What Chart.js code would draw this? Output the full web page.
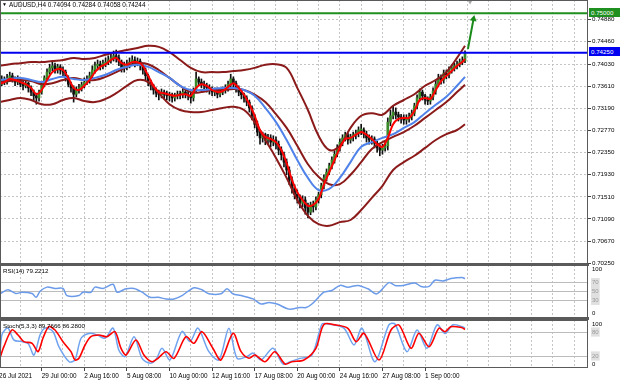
<!DOCTYPE html>
<html>
<head>
<meta charset="utf-8">
<script src="https://cdn.jsdelivr.net/npm/chart.js@4.4.1/dist/chart.umd.min.js"></script>
<style>
html,body{margin:0;padding:0;background:#fff;}
#wrap{position:relative;width:620px;height:383px;overflow:hidden;background:#fff;font-family:'Liberation Sans',Arial,sans-serif;}
canvas{position:absolute;left:0;}
.t{position:absolute;white-space:nowrap;font-size:6.4px;line-height:1;color:#000;}
.box{position:absolute;left:589px;width:31px;height:9px;font-size:6.2px;line-height:9px;padding-left:2px;box-sizing:border-box;color:#fff;}
.sep{position:absolute;left:0;width:589px;background:#5a5a5a;}
</style>
</head>
<body>
<div id="wrap">
<canvas id="cMain" width="620" height="268" style="top:0"></canvas>
<canvas id="cRsi" width="620" height="53" style="top:265px"></canvas>
<canvas id="cSto" width="620" height="63" style="top:320px"></canvas>
<div class="sep" style="top:264px;height:2px"></div>
<div class="sep" style="top:317px;height:3px"></div>
<div class="t" style="left:2px;top:2px;font-size:5px">&#9660;</div>
<div class="t" id="hdr" style="left:9px;top:2px"></div>
<div class="t" id="rsiLbl" style="left:3px;top:268px;font-size:6.2px"></div>
<div class="t" id="stoLbl" style="left:3px;top:323px;font-size:6.2px"></div>
<div class="box" id="boxG" style="top:8px;background:#1f8f1f"></div>
<div class="box" id="boxB" style="top:47px;background:#0000f0"></div>
</div>
<script>
// ---------------- data ----------------
const symbol = 'AUDUSD,H4';
const opens = [
0.7362,0.7365,0.7373,0.7369,0.7377,0.7381,0.7375,0.7369,0.7373,0.7365,
0.7362,0.7367,0.7358,0.7350,0.7343,0.7339,0.7350,0.7364,0.7377,0.7388,
0.7396,0.7400,0.7392,0.7398,0.7392,0.7388,0.7377,0.7365,0.7358,0.7346,
0.7354,0.7358,0.7364,0.7369,0.7373,0.7381,0.7392,0.7400,0.7403,0.7400,
0.7405,0.7407,0.7411,0.7415,0.7419,0.7415,0.7407,0.7396,0.7400,0.7403,
0.7407,0.7411,0.7405,0.7409,0.7400,0.7392,0.7381,0.7369,0.7362,0.7354,
0.7348,0.7345,0.7350,0.7346,0.7343,0.7345,0.7339,0.7343,0.7346,0.7345,
0.7350,0.7346,0.7343,0.7339,0.7354,0.7375,0.7369,0.7365,0.7362,0.7358,
0.7354,0.7350,0.7352,0.7346,0.7350,0.7354,0.7358,0.7365,0.7375,0.7367,
0.7358,0.7350,0.7345,0.7339,0.7331,0.7320,0.7305,0.7289,0.7274,0.7263,
0.7269,0.7259,0.7263,0.7255,0.7259,0.7251,0.7240,0.7231,0.7217,0.7202,
0.7183,0.7168,0.7156,0.7149,0.7139,0.7145,0.7130,0.7122,0.7136,0.7132,
0.7145,0.7155,0.7172,0.7187,0.7198,0.7210,0.7221,0.7232,0.7244,0.7255,
0.7263,0.7269,0.7259,0.7265,0.7269,0.7272,0.7278,0.7278,0.7270,0.7263,
0.7259,0.7261,0.7253,0.7244,0.7240,0.7244,0.7248,0.7293,0.7305,0.7312,
0.7307,0.7303,0.7301,0.7297,0.7299,0.7303,0.7310,0.7324,0.7339,0.7350,
0.7343,0.7335,0.7333,0.7341,0.7352,0.7365,0.7377,0.7373,0.7386,0.7383,
0.7392,0.7396,0.7400,0.7403,0.7407,0.74094];
const highs = [
0.7373,0.7381,0.7379,0.7384,0.7388,0.7386,0.7379,0.7381,0.7377,0.7371,
0.7373,0.7369,0.7362,0.7354,0.7348,0.7354,0.7367,0.7381,0.7394,0.7403,
0.7407,0.7405,0.7403,0.7402,0.7398,0.7392,0.7381,0.7369,0.7362,0.7360,
0.7365,0.7369,0.7377,0.7381,0.7388,0.7400,0.7407,0.7411,0.7409,0.7411,
0.7415,0.7419,0.7422,0.7428,0.7430,0.7421,0.7411,0.7407,0.7411,0.7415,
0.7419,0.7417,0.7415,0.7413,0.7403,0.7396,0.7384,0.7373,0.7365,0.7358,
0.7354,0.7356,0.7354,0.7352,0.7350,0.7348,0.7348,0.7352,0.7352,0.7356,
0.7354,0.7352,0.7348,0.7358,0.7388,0.7379,0.7375,0.7371,0.7367,0.7364,
0.7360,0.7358,0.7358,0.7356,0.7360,0.7364,0.7371,0.7384,0.7379,0.7371,
0.7362,0.7356,0.7348,0.7343,0.7335,0.7324,0.7308,0.7295,0.7278,0.7274,
0.7272,0.7270,0.7269,0.7267,0.7265,0.7257,0.7246,0.7236,0.7223,0.7208,
0.7189,0.7174,0.7164,0.7155,0.7153,0.7151,0.7139,0.7141,0.7143,0.7151,
0.7160,0.7177,0.7193,0.7204,0.7215,0.7227,0.7238,0.7250,0.7261,0.7269,
0.7274,0.7272,0.7270,0.7274,0.7278,0.7284,0.7289,0.7282,0.7276,0.7269,
0.7267,0.7265,0.7257,0.7250,0.7251,0.7255,0.7301,0.7316,0.7324,0.7320,
0.7312,0.7308,0.7307,0.7307,0.7310,0.7316,0.7329,0.7345,0.7356,0.7354,
0.7346,0.7341,0.7346,0.7358,0.7373,0.7384,0.7383,0.7392,0.7392,0.7398,
0.7402,0.7405,0.7409,0.7413,0.7417,0.74284];
const lows = [
0.7354,0.7362,0.7364,0.7365,0.7373,0.7369,0.7362,0.7364,0.7360,0.7354,
0.7358,0.7350,0.7343,0.7335,0.7327,0.7333,0.7346,0.7360,0.7373,0.7384,
0.7390,0.7386,0.7386,0.7384,0.7381,0.7371,0.7360,0.7350,0.7331,0.7341,
0.7348,0.7352,0.7358,0.7364,0.7367,0.7375,0.7386,0.7392,0.7392,0.7394,
0.7398,0.7402,0.7405,0.7409,0.7407,0.7400,0.7388,0.7388,0.7392,0.7396,
0.7402,0.7398,0.7400,0.7392,0.7384,0.7373,0.7362,0.7354,0.7346,0.7341,
0.7335,0.7339,0.7337,0.7335,0.7333,0.7331,0.7333,0.7337,0.7337,0.7339,
0.7339,0.7335,0.7329,0.7333,0.7350,0.7362,0.7358,0.7354,0.7350,0.7346,
0.7343,0.7343,0.7339,0.7341,0.7345,0.7348,0.7352,0.7360,0.7360,0.7350,
0.7343,0.7337,0.7331,0.7324,0.7312,0.7297,0.7282,0.7267,0.7251,0.7255,
0.7250,0.7251,0.7246,0.7248,0.7242,0.7231,0.7221,0.7208,0.7193,0.7174,
0.7158,0.7147,0.7139,0.7130,0.7132,0.7118,0.7111,0.7117,0.7122,0.7126,
0.7139,0.7149,0.7166,0.7181,0.7193,0.7204,0.7215,0.7227,0.7238,0.7248,
0.7257,0.7251,0.7253,0.7257,0.7261,0.7265,0.7269,0.7263,0.7255,0.7251,
0.7251,0.7244,0.7236,0.7229,0.7232,0.7238,0.7240,0.7286,0.7299,0.7299,
0.7295,0.7291,0.7289,0.7289,0.7293,0.7297,0.7305,0.7318,0.7333,0.7335,
0.7327,0.7326,0.7327,0.7335,0.7346,0.7360,0.7365,0.7367,0.7375,0.7377,
0.7386,0.7390,0.7394,0.7398,0.7402,0.74058];
const closes = [
0.7365,0.7373,0.7369,0.7377,0.7381,0.7375,0.7369,0.7373,0.7365,0.7362,
0.7367,0.7358,0.7350,0.7343,0.7339,0.7350,0.7364,0.7377,0.7388,0.7396,
0.7400,0.7392,0.7398,0.7392,0.7388,0.7377,0.7365,0.7358,0.7346,0.7354,
0.7358,0.7364,0.7369,0.7373,0.7381,0.7392,0.7400,0.7403,0.7400,0.7405,
0.7407,0.7411,0.7415,0.7419,0.7415,0.7407,0.7396,0.7400,0.7403,0.7407,
0.7411,0.7405,0.7409,0.7400,0.7392,0.7381,0.7369,0.7362,0.7354,0.7348,
0.7345,0.7350,0.7346,0.7343,0.7345,0.7339,0.7343,0.7346,0.7345,0.7350,
0.7346,0.7343,0.7339,0.7354,0.7375,0.7369,0.7365,0.7362,0.7358,0.7354,
0.7350,0.7352,0.7346,0.7350,0.7354,0.7358,0.7365,0.7375,0.7367,0.7358,
0.7350,0.7345,0.7339,0.7331,0.7320,0.7305,0.7289,0.7274,0.7263,0.7269,
0.7259,0.7263,0.7255,0.7259,0.7251,0.7240,0.7231,0.7217,0.7202,0.7183,
0.7168,0.7156,0.7149,0.7139,0.7145,0.7130,0.7122,0.7136,0.7132,0.7145,
0.7155,0.7172,0.7187,0.7198,0.7210,0.7221,0.7232,0.7244,0.7255,0.7263,
0.7269,0.7259,0.7265,0.7269,0.7272,0.7278,0.7278,0.7270,0.7263,0.7259,
0.7261,0.7253,0.7244,0.7240,0.7244,0.7248,0.7293,0.7305,0.7312,0.7307,
0.7303,0.7301,0.7297,0.7299,0.7303,0.7310,0.7324,0.7339,0.7350,0.7343,
0.7335,0.7333,0.7341,0.7352,0.7365,0.7377,0.7373,0.7386,0.7383,0.7392,
0.7396,0.7400,0.7403,0.7407,0.74094,0.74244];

// Bollinger bands (20,2) and moving averages, read every 4 bars
const bandX = [0,4,8,12,16,20,24,28,32,36,40,44,48,52,56,60,64,68,72,76,80,84,88,92,96,100,104,108,112,116,120,124,128,132,136,140,144,148,152,156,160,164,168,172,175];
const upperVals = [0.7400,0.7403,0.7405,0.7407,0.7407,0.7409,0.7411,0.7415,0.7413,0.7415,
0.7421,0.7426,0.7430,0.7434,0.7438,0.7436,0.7426,0.7411,0.7396,0.7388,
0.7388,0.7388,0.7390,0.7392,0.7396,0.7402,0.7403,0.7396,0.7358,0.7316,
0.7267,0.7240,0.7248,0.7282,0.7305,0.7310,0.7307,0.7324,0.7335,0.7346,
0.7362,0.7373,0.7388,0.7415,0.7438];
const midVals = [0.7369,0.7371,0.7373,0.7371,0.7365,0.7367,0.7373,0.7377,0.7373,0.7373,
0.7379,0.7388,0.7398,0.7405,0.7403,0.7392,0.7377,0.7362,0.7350,0.7350,
0.7354,0.7354,0.7356,0.7354,0.7345,0.7331,0.7308,0.7282,0.7248,0.7213,
0.7189,0.7175,0.7175,0.7193,0.7217,0.7242,0.7255,0.7265,0.7274,0.7286,
0.7301,0.7316,0.7331,0.7350,0.7364];
const lowerVals = [0.7331,0.7335,0.7339,0.7335,0.7327,0.7327,0.7335,0.7339,0.7333,0.7331,
0.7337,0.7348,0.7362,0.7373,0.7369,0.7348,0.7327,0.7316,0.7312,0.7312,
0.7316,0.7320,0.7322,0.7316,0.7293,0.7259,0.7225,0.7187,0.7145,0.7115,
0.7099,0.7096,0.7103,0.7107,0.7126,0.7149,0.7172,0.7202,0.7217,0.7229,
0.7244,0.7259,0.7270,0.7278,0.7289];
const blueVals = [0.7373,0.7375,0.7377,0.7373,0.7369,0.7375,0.7379,0.7375,0.7373,0.7377,
0.7383,0.7392,0.7398,0.7402,0.7398,0.7388,0.7377,0.7362,0.7354,0.7354,
0.7356,0.7358,0.7358,0.7354,0.7343,0.7320,0.7293,0.7259,0.7221,0.7187,
0.7164,0.7166,0.7187,0.7217,0.7246,0.7255,0.7263,0.7270,0.7282,0.7293,
0.7310,0.7326,0.7341,0.7362,0.7379];
// fast moving average, read every 2 bars
const redX = [0,2,4,6,8,10,12,14,16,18,20,22,24,26,28,30,32,34,36,38,40,42,44,46,48,50,52,54,56,58,60,62,64,66,68,70,72,74,76,78,80,82,84,86,88,90,92,94,96,98,100,102,104,106,108,110,112,114,116,118,120,122,124,126,128,130,132,134,136,138,140,142,144,146,148,150,152,154,156,158,160,162,164,166,168,170,172,174,175];
const redVals = [0.7365,0.7369,0.7375,0.7373,0.7369,0.7365,0.7358,0.7346,0.7354,0.7373,
0.7388,0.7394,0.7392,0.7377,0.7358,0.7354,0.7362,0.7373,0.7388,0.7398,
0.7403,0.7411,0.7415,0.7405,0.7402,0.7407,0.7407,0.7400,0.7381,0.7362,
0.7350,0.7348,0.7345,0.7343,0.7345,0.7346,0.7343,0.7358,0.7365,0.7362,
0.7354,0.7350,0.7352,0.7360,0.7367,0.7358,0.7345,0.7327,0.7305,0.7278,
0.7265,0.7261,0.7255,0.7240,0.7215,0.7183,0.7160,0.7145,0.7134,0.7136,
0.7147,0.7174,0.7198,0.7221,0.7244,0.7261,0.7263,0.7269,0.7274,0.7269,
0.7261,0.7251,0.7246,0.7263,0.7289,0.7299,0.7301,0.7301,0.7314,0.7335,
0.7339,0.7337,0.7354,0.7371,0.7381,0.7390,0.7400,0.7407,0.7413];

const levelPrices = [0.75000, 0.74250];          // green target, blue resistance
const arrowX = [176.1, 178.2];
const arrowY = [0.7432, 0.7489];
const markerX = [176.9];
const markerY = [0.7521];

const priceTicks = [0.70250,0.70670,0.71090,0.71510,0.71930,0.72350,0.72770,0.73190,0.73610,0.74030,0.74460,0.74880];
const gridBars = [0,8,16,24,32,40,48,56,64,72,80,88,96,104,112,120,128,136,144,152,160,168,176,184,192,200,208,216];
const timeLabelBars = [0,16,32,48,64,80,96,112,128,144,160];
const timeLabels = ['26 Jul 2021','29 Jul 00:00','2 Aug 16:00','5 Aug 08:00','10 Aug 00:00','12 Aug 16:00','17 Aug 08:00','20 Aug 00:00','24 Aug 16:00','27 Aug 08:00','1 Sep 00:00'];

const rsiX = [0.3,3.3,6.3,8.6,12.4,13.9,15.4,18,21,24,25.5,30,31.5,34.5,36,39,42.8,44.3,47.7,50.7,53.7,56.7,59.7,62.7,65.7,68.7,73.2,76.2,78.8,83.3,85.6,87.8,90.9,95.4,98.4,101.4,104.4,108.9,113,115.3,117.5,122,125,128,131,134.8,138.5,141.9,146.4,148.7,151.7,156.2,158.5,161.5,163.7,166.7,169.7,173.9,175];
const rsiVals = [44.7,53.9,45.4,48.4,45.4,36.8,50.7,59.9,56.9,56.9,40.8,40.8,48.4,48.4,59.9,56.9,66.2,48.4,56.2,56.9,48.4,36.8,36.8,33.2,33.2,40.8,58.5,53.9,44.7,44.7,56.2,44.7,40.8,33.2,21.6,25.3,21.6,10.1,13.8,13.8,21.6,48.4,52.3,63.8,59.9,63.8,56.2,44.7,70.1,63.8,63.8,69.2,61.5,61.5,75.4,73.8,79.3,81.6,79.2212];
const rsiTicks = [0,30,50,70,100];
const rsiLevels = [30,50,70];

const kX = [0.3,1.1,3.3,5.6,8.6,10.9,13.1,15.4,17.2,20.2,22.5,26.3,28.5,30.8,33.8,36.8,39.8,42.8,45,47.3,50.7,53.7,56.7,58.9,61.2,64.2,68.7,71.7,74.7,78.8,82.6,86.3,89.4,93.1,95.4,98.4,102.9,106.6,109.3,113,117.5,121.3,123.5,129.5,133.3,136.3,141.2,146.4,148.7,153.2,157,160.7,164.5,167.5,170.5,173.9,175];
const kVals = [14,74,89.6,59.6,56,51.2,22.4,72.8,89.6,81.2,42.8,5.6,10.4,64.4,76.4,72.8,64.4,89.6,34.4,18.8,68,14,2,10.4,39.2,10.4,81.2,56,89.6,30.8,10.4,89.6,14,18.8,27.2,10.4,39.2,0,5.6,14,22.4,100,100,89.6,47.6,89.6,5.6,98,100,30.8,84.8,39.2,98,76.4,98,93.2,89.7666];
const dX = [0.3,1.8,4.8,7.1,9.3,12.4,14.6,16.5,18.7,21,24,27,28.5,30,32.3,34.5,37.5,40.5,43.5,45.8,47.7,51.4,54.4,57.4,59.7,62.7,65.7,70.2,73.2,76.2,80.3,83.3,87.9,90.9,93.9,96.1,99.9,103.6,107.4,110,114.5,119,122,126.5,131,134.1,137.1,142.7,147.2,150.2,154.7,157.7,161.5,165.2,167.5,169.7,173.9,175];
const dVals = [14.3,43.3,85,72.5,55.8,51.8,30.8,65,93.3,85,55.8,30.8,10,14.3,47.5,68.3,72.5,68.3,80.8,39.3,22.5,60,22.5,5.8,14.3,30.8,14.3,68.3,51.8,80.8,39.3,10,76.8,30.8,14.3,22.5,5.8,30.8,0,5.8,10,39.3,99,97.5,89.3,55.8,76.8,10,85,97.5,39.3,76.8,43.3,89.3,80.8,93.3,90.8,86.28];
const stoTicks = [0,20,80,100];
const stoLevels = [20,80];

// ---------------- view ----------------
const X_MIN = 0.34, X_MAX = 221.2;
const Y_MIN = 0.70234, Y_MAX = 0.7525;
const FONT = "'Liberation Sans', Arial, sans-serif";
const GRID = '#c4c4c4';
const BAND = '#8b1a1a';

const pts = (xs, ys) => xs.map((x, k) => ({x, y: ys[k]}));
const last = a => a[a.length - 1];
const noPad = s => { s.paddingTop = 0; s.paddingBottom = 0; s.paddingLeft = 0; s.paddingRight = 0; };

const frame = {
  id: 'frame',
  afterDraw(chart) {
    const {ctx, chartArea: a} = chart;
    ctx.save();
    ctx.strokeStyle = '#5a5a5a';
    ctx.lineWidth = 1;
    ctx.strokeRect(a.left + 0.5, a.top + 0.5, a.right - a.left - 1, a.bottom - a.top - 1);
    ctx.restore();
  }
};

function xAxis(mode) {
  const show = mode === 'time';
  return {
    type: 'linear', min: X_MIN, max: X_MAX, offset: false,
    afterBuildTicks: s => { s.ticks = gridBars.map(v => ({value: v})); },
    afterFit: s => { s.height = mode === 'main' ? 4 : (show ? 15 : 0); noPad(s); },
    grid: {
      offset: false, color: GRID, lineWidth: 1, drawTicks: show, tickLength: 3,
      tickColor: c => (c.tick && timeLabelBars.includes(c.tick.value)) ? '#444' : 'rgba(0,0,0,0)'
    },
    border: {display: false, dash: [2, 2]},
    ticks: {
      display: show, autoSkip: false, maxRotation: 0, minRotation: 0, align: 'start', padding: 1,
      color: '#000', font: {family: FONT, size: 6.4},
      callback: v => { const k = timeLabelBars.indexOf(v); return k >= 0 ? timeLabels[k] : ''; }
    }
  };
}

function subY(ticksArr, levels) {
  return {
    position: 'right', min: -10, max: 110,
    afterBuildTicks: s => { s.ticks = ticksArr.map(v => ({value: v})); },
    afterFit: s => { s.width = 32; noPad(s); },
    grid: {
      color: c => (c.tick && levels.includes(c.tick.value)) ? '#bcbcbc' : 'rgba(0,0,0,0)',
      drawTicks: false
    },
    border: {display: false},
    ticks: {
      padding: 4, font: {family: FONT, size: 6},
      color: c => (c.tick && levels.includes(c.tick.value)) ? '#9a9a9a' : '#000',
      showLabelBackdrop: c => !!(c.tick && levels.includes(c.tick.value)),
      backdropColor: '#e0e0e0', backdropPadding: 1,
      callback: v => String(v)
    }
  };
}

const common = {
  responsive: false, animation: false, devicePixelRatio: 1, events: [],
  layout: {padding: 0, autoPadding: false},
  plugins: {legend: {display: false}, tooltip: {enabled: false}}
};

Chart.defaults.font.family = FONT;

// ---------------- main price chart ----------------
const idx = closes.map((_, i) => i);
const lineDs = (data, color, width, order, tension) => ({
  type: 'line', data, borderColor: color, borderWidth: width, pointRadius: 0,
  tension: tension, order, fill: false
});

new Chart(document.getElementById('cMain'), {
  type: 'bar',
  data: {
    datasets: [
      {type: 'bar', data: idx.map(i => ({x: i, y: [lows[i], highs[i]]})), backgroundColor: '#111',
       barThickness: 1, grouped: false, order: 20},
      {type: 'bar', data: idx.map(i => ({x: i, y: [opens[i], closes[i]]})),
       backgroundColor: idx.map(i => closes[i] >= opens[i] ? '#3a8a28' : '#111'),
       barThickness: 2, minBarLength: 1, grouped: false, order: 19},
      lineDs(pts(bandX, upperVals), BAND, 2, 6, 0.4),
      lineDs(pts(bandX, midVals), BAND, 2, 6, 0.4),
      lineDs(pts(bandX, lowerVals), BAND, 2, 6, 0.4),
      lineDs(pts(bandX, blueVals), '#4f82ea', 2, 5, 0.4),
      lineDs(pts(redX, redVals), '#ff0000', 2, 4, 0.3),
      lineDs([{x: X_MIN, y: levelPrices[0]}, {x: X_MAX, y: levelPrices[0]}], '#1f8f1f', 2, 3, 0),
      lineDs([{x: X_MIN, y: levelPrices[1]}, {x: X_MAX, y: levelPrices[1]}], '#0000f0', 2, 3, 0),
      {type: 'line', data: pts(arrowX, arrowY), borderColor: '#1a8a1a', borderWidth: 2,
       pointRadius: [0, 4], pointStyle: 'triangle', pointRotation: [0, 11],
       pointBackgroundColor: '#1a8a1a', pointBorderWidth: 0, order: 1, tension: 0},
      {type: 'line', data: pts(markerX, markerY), showLine: false, pointRadius: 2.5,
       pointStyle: 'triangle', pointRotation: 180, pointBackgroundColor: '#a8a8a8',
       pointBorderWidth: 0, order: 1}
    ]
  },
  options: Object.assign({}, common, {
    scales: {
      x: xAxis('main'),
      y: {
        position: 'right', min: Y_MIN, max: Y_MAX,
        afterBuildTicks: s => { s.ticks = priceTicks.map(v => ({value: v})); },
        afterFit: s => { s.width = 32; noPad(s); },
        grid: {color: GRID, tickLength: 3, tickColor: '#444', drawTicks: true},
        border: {display: false, dash: [2, 2]},
        ticks: {color: '#000', padding: 1, font: {family: FONT, size: 6.2}, callback: v => v.toFixed(5)}
      }
    }
  }),
  plugins: [frame]
});

// ---------------- RSI ----------------
new Chart(document.getElementById('cRsi'), {
  type: 'line',
  data: {datasets: [lineDs(pts(rsiX, rsiVals), '#6b9be9', 1.5, 1, 0.3)]},
  options: Object.assign({}, common, {scales: {x: xAxis('sub'), y: subY(rsiTicks, rsiLevels)}}),
  plugins: [frame]
});

// ---------------- Stochastic ----------------
new Chart(document.getElementById('cSto'), {
  type: 'line',
  data: {datasets: [
    lineDs(pts(kX, kVals), '#6fa3ef', 1.5, 2, 0.3),
    lineDs(pts(dX, dVals), '#ff0000', 1.6, 1, 0.3)
  ]},
  options: Object.assign({}, common, {scales: {x: xAxis('time'), y: subY(stoTicks, stoLevels)}}),
  plugins: [frame]
});

// ---------------- text overlays ----------------
const n = closes.length - 1;
document.getElementById('hdr').textContent =
  `${symbol} ${opens[n].toFixed(5)} ${highs[n].toFixed(5)} ${lows[n].toFixed(5)} ${closes[n].toFixed(5)}`;
document.getElementById('rsiLbl').textContent = `RSI(14) ${last(rsiVals).toFixed(4)}`;
document.getElementById('stoLbl').textContent = `Stoch(5,3,3) ${last(kVals).toFixed(4)} ${last(dVals).toFixed(4)}`;
document.getElementById('boxG').textContent = levelPrices[0].toFixed(5);
document.getElementById('boxB').textContent = levelPrices[1].toFixed(5);
</script>
